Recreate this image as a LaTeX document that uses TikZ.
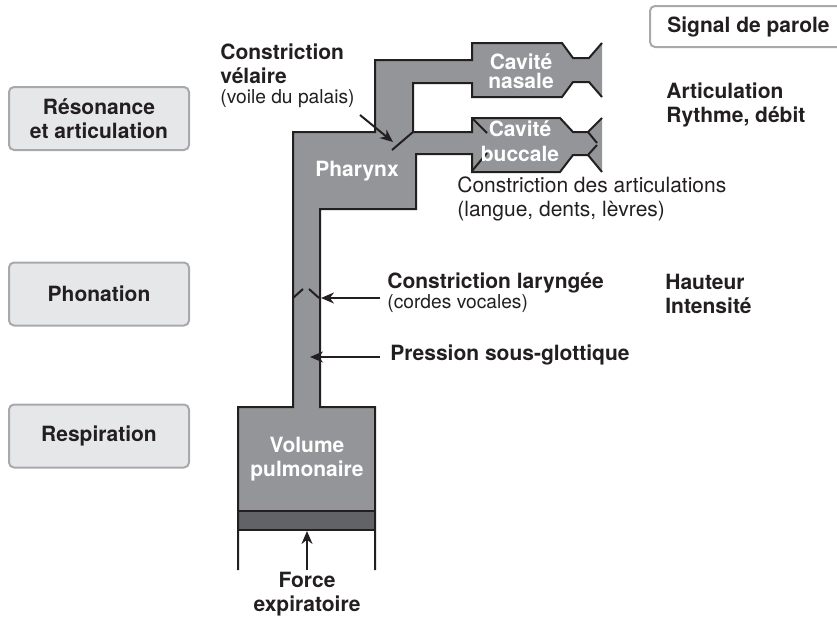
\documentclass[tikz,border=0pt]{standalone}
\usepackage{fontspec}
\setmainfont{TeX Gyre Heros}
\usetikzlibrary{arrows.meta}

\definecolor{tract}{HTML}{939598}
\definecolor{band}{HTML}{626366}
\definecolor{ink}{HTML}{231F20}
\definecolor{boxfill}{HTML}{E6E7E8}
\definecolor{boxline}{HTML}{A7A9AC}

\newcommand\lblsize{\fontsize{10.5}{12}\selectfont}
\newcommand\smallsize{\fontsize{9.6}{11}\selectfont}

\tikzset{
  wall/.style={draw=ink, line width=1pt, line join=miter},
  narrow/.style={draw=ink, line width=1pt},
  pointer/.style={draw=ink, line width=1pt, -{Stealth[length=6.5pt,width=5.5pt]}},
  stage/.style={draw=boxline, fill=boxfill, line width=1pt, rounded corners=2.5pt,
    minimum width=90pt, minimum height=31.5pt, align=center, inner sep=0pt,
    font=\lblsize\bfseries, text=ink},
  lab/.style={anchor=west, align=left, inner sep=0pt, font=\lblsize\bfseries, text=ink},
  note/.style={anchor=west, align=left, inner sep=0pt, font=\lblsize, text=ink},
  paren/.style={anchor=west, align=left, inner sep=0pt, font=\smallsize, text=ink},
  inlab/.style={align=center, inner sep=0pt, font=\lblsize\bfseries, text=white},
}

\begin{document}
\begin{tikzpicture}[x=0.5pt, y=-0.5pt]
\useasboundingbox (0,0) rectangle (837,621);

% vocal tract: lungs, trachea, pharynx, nasal and oral cavities
\fill[tract] (238,530) -- (238,407) -- (293,407) -- (293,132) -- (375,132) -- (375,60)
  -- (472,60) -- (472,43) -- (562,43) -- (573,58) -- (589,58) -- (602,43)
  -- (602,97) -- (589,82) -- (573,82) -- (562,97) -- (472,97) -- (472,83)
  -- (413,83) -- (413,132) -- (472,132) -- (472,118) -- (560,118) -- (573,132)
  -- (588,132) -- (602,118) -- (602,172) -- (588,155) -- (573,155) -- (560,172)
  -- (472,172) -- (472,154) -- (416,154) -- (416,209) -- (320,209) -- (320,407)
  -- (375,407) -- (375,530) -- cycle;
\fill[band] (238,511) rectangle (375,530);

\draw[wall] (602,43) -- (589,58) -- (573,58) -- (562,43) -- (472,43) -- (472,60)
  -- (375,60) -- (375,132) -- (293,132) -- (293,407) -- (238,407) -- (238,570);
\draw[wall] (602,97) -- (589,82) -- (573,82) -- (562,97) -- (472,97) -- (472,83)
  -- (413,83) -- (413,132) -- (472,132) -- (472,118) -- (560,118) -- (573,132)
  -- (588,132) -- (602,118);
\draw[wall] (602,172) -- (588,155) -- (573,155) -- (560,172) -- (472,172) -- (472,154)
  -- (416,154) -- (416,209) -- (320,209) -- (320,407) -- (375,407) -- (375,570);
\draw[wall] (238,511) -- (375,511);
\draw[wall] (238,530) -- (375,530);

% constrictions
\draw[narrow] (392,150) -- (413,132);
\draw[narrow] (293,298) -- (303,289);
\draw[narrow] (309,289) -- (319,298);
\draw[narrow] (472,118) -- (487,133);
\draw[narrow] (472,171) -- (487,153);
\draw[narrow] (588,132) -- (597,143);
\draw[narrow] (588,155) -- (597,145);

% labels inside the tract
\node[inlab, font=\fontsize{10.5}{9.5}\selectfont\bfseries] (nasal) at (521,71) {Cavité\\nasale};
\node[inlab, font=\fontsize{10.5}{12.5}\selectfont\bfseries] (bucc) at (520,141) {Cavité\\buccale};
\node[inlab] (phar) at (357,171) {Pharynx};
\node[inlab] (vol) at (307,459) {Volume\\pulmonaire};

% stages
\node[stage] (reso) at (99,118.5) {Résonance\\et articulation};
\node[stage] (phon) at (99,294) {Phonation};
\node[stage] (resp) at (99,436) {Respiration};

% output signal
\draw[draw=boxline, fill=white, line width=1pt, rounded corners=2.5pt] (650,6) rectangle (850,47);
\node[lab] (sig) at (667,27) {Signal de parole};

% side labels
\node[lab] (artic) at (666,105) {Articulation\\Rythme, débit};
\node[lab] (haut) at (665,294) {Hauteur\\Intensité};
\node[lab] (cvel) at (220,64) {Constriction\\vélaire};
\node[paren] (voile) at (220,99) {(voile du palais)};
\node[lab] (clar) at (387,283) {Constriction laryngée};
\node[paren] (cordes) at (387,304) {(cordes vocales)};
\node[lab] (press) at (390,355) {Pression sous-glottique};
\node[note] (carti) at (457,199) {Constriction des articulations\\(langue, dents, lèvres)};
\node[inlab, text=ink] (force) at (307,594) {Force\\expiratoire};

% pointers
\coordinate (velA) at (360,115);
\coordinate (velB) at (393,142);
\coordinate (larA) at (380,298);
\coordinate (larB) at (321,298);
\coordinate (preA) at (380,357);
\coordinate (preB) at (310,357);
\coordinate (forA) at (307,570);
\coordinate (forB) at (307,531);
\draw[pointer] (velA) -- (velB);
\draw[pointer] (larA) -- (larB);
\draw[pointer] (preA) -- (preB);
\draw[pointer] (forA) -- (forB);
\end{tikzpicture}
\end{document}
